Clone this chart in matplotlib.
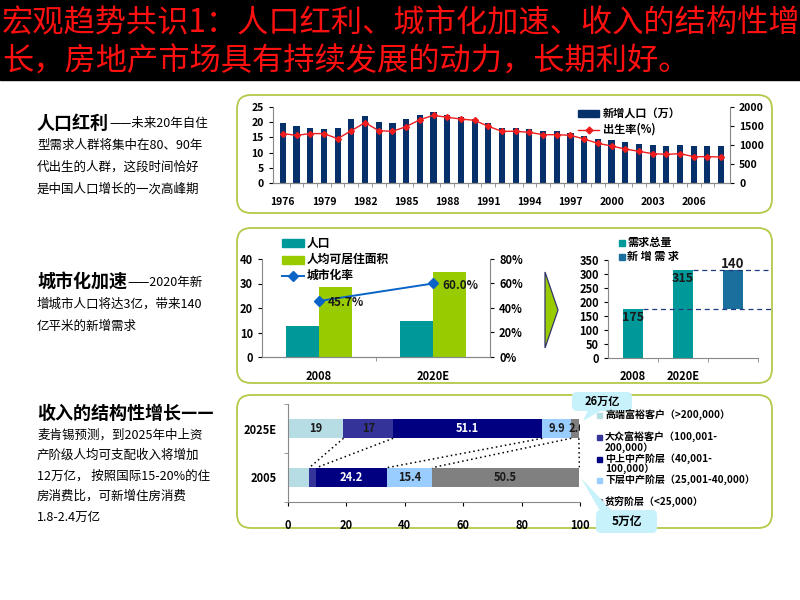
import matplotlib
matplotlib.use("Agg")
import matplotlib.pyplot as plt
from matplotlib.patches import FancyBboxPatch, Polygon, Rectangle
from matplotlib.lines import Line2D
import numpy as np

plt.rcParams['font.family'] = ['Noto Sans CJK SC', 'DejaVu Sans']
plt.rcParams['axes.unicode_minus'] = False

W, H = 800, 600

# ---- data ----
years = list(range(1976, 2009))
new_pop = [19.9, 18.9, 18.2, 17.8, 18.2, 20.9, 22.1, 20.2, 19.9, 21.0,
           22.4, 23.3, 22.4, 21.6, 21.1, 19.7, 18.2, 18.1, 17.7, 17.1,
           17.0, 16.6, 15.6, 14.6, 14.0, 13.4, 12.9, 12.4, 12.3, 12.4,
           12.1, 12.1, 12.1]
birth_rate = [1300, 1254, 1300, 1300, 1166, 1377, 1588, 1377, 1360, 1482,
              1666, 1780, 1728, 1684, 1649, 1491, 1360, 1360, 1333, 1271,
              1271, 1254, 1158, 1044, 974, 895, 833, 772, 754, 772,
              693, 693, 684]

urban_cats = ["2008", "2020E"]
urban_pop = [12.8, 14.8]
urban_area = [28.7, 34.8]
urban_rate = [45.7, 60.0]

demand_cats = ["2008", "2020E", ""]
demand_total = [175, 315]
demand_new = 140

income_cats = ["2005", "2025E"]
income_groups = ["高端富裕客户（>200,000）", "大众富裕客户（100,001-\n200,000）",
                 "中上中产阶层（40,001-\n100,000）", "下层中产阶层（25,001-40,000）",
                 "贫穷阶层（<25,000）"]
income_2005 = [7.3, 2.4, 24.2, 15.4, 50.5]
income_2025 = [19, 17, 51.1, 9.9, 2.6]
income_colors = ["#b7dde4", "#333399", "#000080", "#99ccff", "#808080"]
labels_2005 = [False, False, True, True, True]

TEAL = "#009999"
GREEN = "#99cc00"
NAVY = "#06306a"
BLUE_NEW = "#1b6f9c"
BORDER = "#b4c94a"


def box(x0, y0, x1, y1):
    return [x0 / W, 1 - y1 / H, (x1 - x0) / W, (y1 - y0) / H]


def style_axis(ax, color="#888888"):
    ax.patch.set_alpha(0)
    for s in ax.spines.values():
        s.set_color(color)
        s.set_linewidth(0.8)
    ax.tick_params(colors="black", labelsize=7.5, width=0.8, length=3)
    for lab in ax.get_xticklabels() + ax.get_yticklabels():
        lab.set_fontweight("bold")


fig = plt.figure(figsize=(8, 6), dpi=100)
fig.patch.set_facecolor("white")

bg = fig.add_axes([0, 0, 1, 1], zorder=0)
bg.set_xlim(0, W)
bg.set_ylim(H, 0)
bg.axis("off")

# title band
bg.add_patch(Rectangle((0, 0), W, 80, color="black"))
bg.text(2, 23, "宏观趋势共识1：人口红利、城市化加速、收入的结构性增", color="#ff1010",
        fontsize=22.5, va="center", ha="left")
bg.text(2, 62, "长，房地产市场具有持续发展的动力，长期利好。", color="#ff1010",
        fontsize=22.5, va="center", ha="left")

# panels
for (y0, y1) in [(95, 213), (228, 383), (395, 528)]:
    bg.add_patch(FancyBboxPatch((237, y0), 535, y1 - y0,
                                boxstyle="round,pad=0,rounding_size=14",
                                fc="white", ec=BORDER, lw=1.3))

# left column text
def heading(y, head, rest, lines):
    t = bg.text(37, y, head, fontsize=13, fontweight="bold", va="center", ha="left")
    bg.annotate(rest, xy=(1, 0.12), xycoords=t, fontsize=9, va="bottom", ha="left")
    for i, line in enumerate(lines):
        bg.text(37, y + 22 * (i + 1), line, fontsize=9, va="center", ha="left")

heading(123, "人口红利", "——未来20年自住",
        ["型需求人群将集中在80、90年", "代出生的人群，这段时间恰好", "是中国人口增长的一次高峰期"])
heading(282, "城市化加速", "——2020年新",
        ["增城市人口将达3亿，带来140", "亿平米的新增需求"])
bg.text(37, 413, "收入的结构性增长——", fontsize=13, fontweight="bold", va="center", ha="left")
for i, line in enumerate(["麦肯锡预测，到2025年中上资", "产阶级人均可支配收入将增加",
                          "12万亿， 按照国际15-20%的住", "房消费比，可新增住房消费",
                          "1.8-2.4万亿"]):
    bg.text(37, 435 + 20.5 * i, line, fontsize=9, va="center", ha="left")

# arrow chevron
bg.add_patch(Polygon([(545, 272), (558, 310), (545, 348)], closed=True,
                     fc=GREEN, ec="#33336b", lw=0.9))

# ---- chart 1: population ----
ax1 = fig.add_axes(box(273, 107, 730, 183))
x1 = np.arange(len(years))
ax1.bar(x1, new_pop, width=0.45, color=NAVY, zorder=2)
ax1.set_xlim(-0.72, len(years) - 0.35)
ax1.set_ylim(0, 25)
ax1.set_yticks(range(0, 26, 5))
ax1.set_xticks(x1[::3])
ax1.set_xticklabels([str(y) for y in years[::3]])
ax1.set_xticks(x1[:-1] + 0.5, minor=True)
ax1.spines["top"].set_visible(False)
ax1.spines["right"].set_visible(False)
style_axis(ax1)
ax1.tick_params(axis="x", which="major", length=0, pad=10)
ax1.tick_params(axis="x", which="minor", length=3, color="#888888")
ax1r = ax1.twinx()
ax1r.plot(x1, birth_rate, color="#ee1c1c", lw=1.0, marker="D", ms=3, zorder=3)
ax1r.set_ylim(0, 2000)
ax1r.set_yticks(range(0, 2001, 500))
ax1r.spines["top"].set_visible(False)
ax1r.spines["left"].set_visible(False)
style_axis(ax1r)

# ---- chart 2: urbanisation ----
ax2 = fig.add_axes(box(262, 259, 490, 357))
x2 = np.arange(len(urban_cats))
ax2.bar(x2 - 0.145, urban_pop, width=0.29, color=TEAL, zorder=2)
ax2.bar(x2 + 0.145, urban_area, width=0.29, color=GREEN, zorder=2)
ax2.set_xlim(-0.5, 1.5)
ax2.set_ylim(0, 40)
ax2.set_yticks(range(0, 41, 10))
ax2.set_xticks(x2)
ax2.set_xticklabels(urban_cats)
ax2.set_xticks([0.5], minor=True)
ax2.spines["top"].set_visible(False)
ax2.spines["right"].set_visible(False)
style_axis(ax2)
ax2.tick_params(axis="x", which="minor", length=3, color="#888888")
ax2.tick_params(axis="x", which="major", length=0, pad=9, labelsize=8)
ax2.tick_params(axis="y", labelsize=8)
ax2r = ax2.twinx()
ax2r.plot(x2, urban_rate, color="#0a64c8", lw=1.4, marker="D", ms=5, zorder=3)
ax2r.set_ylim(0, 80)
ax2r.set_yticks(range(0, 81, 20))
ax2r.set_yticklabels([f"{v}%" for v in range(0, 81, 20)])
ax2r.spines["top"].set_visible(False)
ax2r.spines["left"].set_visible(False)
style_axis(ax2r)
ax2r.tick_params(labelsize=8)
for xi, r in zip(x2, urban_rate):
    ax2r.text(xi + 0.08, r - 1.5, f"{r:.1f}%", fontsize=8.5, fontweight="bold",
              va="center", ha="left", color="#1a1a1a")

# ---- chart 3: housing demand ----
ax3 = fig.add_axes(box(608, 260, 758, 358))
x3 = np.arange(len(demand_cats))
ax3.bar(x3[:2], demand_total, width=0.4, color=TEAL, zorder=2)
ax3.bar(x3[2], demand_new, width=0.4, bottom=demand_total[0], color=BLUE_NEW, zorder=2)
ax3.set_xlim(-0.5, 2.5)
ax3.set_ylim(0, 350)
ax3.set_yticks(range(0, 351, 50))
ax3.set_xticks(x3[:2])
ax3.set_xticklabels(demand_cats[:2])
ax3.set_xticks([0.5, 1.5, 2.5], minor=True)
for s in ["top", "right"]:
    ax3.spines[s].set_visible(False)
style_axis(ax3)
ax3.tick_params(axis="x", which="minor", length=3, color="#888888")
ax3.tick_params(axis="x", which="major", length=0, pad=9, labelsize=8)
ax3.tick_params(axis="y", labelsize=8)
ax3.plot([0.2, 2.75], [demand_total[0]] * 2, ls=(0, (4, 3)), color="#1f3a80", lw=0.9,
         clip_on=False, zorder=3)
ax3.plot([1.2, 2.75], [demand_total[1]] * 2, ls=(0, (4, 3)), color="#1f3a80", lw=0.9,
         clip_on=False, zorder=3)
ax3.text(0, demand_total[0] - 30, str(demand_total[0]), fontsize=9, fontweight="bold",
         ha="center", va="center", color="#1a1a1a", zorder=4)
ax3.text(1, demand_total[1] - 30, str(demand_total[1]), fontsize=9, fontweight="bold",
         ha="center", va="center", color="#1a1a1a", zorder=4)
ax3.text(2, demand_total[0] + demand_new + 22, str(demand_new), fontsize=9.5,
         fontweight="bold", ha="center", va="center", color="#1a1a1a", clip_on=False)

# ---- chart 4: income structure ----
ax4 = fig.add_axes(box(288, 404, 580, 502))
cum05 = np.concatenate([[0], np.cumsum(income_2005)])
cum25 = np.concatenate([[0], np.cumsum(income_2025)])
for i, c in enumerate(income_colors):
    ax4.barh(0, income_2005[i], left=cum05[i], height=0.4, color=c, zorder=2)
    ax4.barh(1, income_2025[i], left=cum25[i], height=0.4, color=c, zorder=2)
    tc = "white" if c == "#000080" else "#1a1a1a"
    ax4.text(cum25[i] + income_2025[i] / 2 + (0.8 if i == 4 else 0), 1, f"{income_2025[i]:g}",
             fontsize=8, fontweight="bold", ha="center", va="center", color=tc, zorder=4,
             clip_on=True)
    if labels_2005[i]:
        ax4.text(cum05[i] + income_2005[i] / 2, 0, f"{income_2005[i]:g}", fontsize=8,
                 fontweight="bold", ha="center", va="center", color=tc, zorder=4)
for i in range(len(income_colors)):
    ax4.plot([cum25[i + 1], cum05[i + 1]], [0.8, 0.2], color="black", lw=1.1,
             ls=(0, (1, 2)), zorder=3)
ax4.set_xlim(0, 100)
ax4.set_ylim(-0.5, 1.5)
ax4.set_yticks([0, 1])
ax4.set_yticklabels(income_cats)
ax4.set_yticks([-0.5, 0.5, 1.5], minor=True)
ax4.set_xticks(range(0, 101, 20))
for s in ["top", "right"]:
    ax4.spines[s].set_visible(False)
style_axis(ax4)
ax4.tick_params(axis="y", which="major", length=0, pad=8, labelsize=8)
ax4.tick_params(axis="y", which="minor", length=3, color="#888888")
ax4.tick_params(axis="x", length=3, pad=9, labelsize=8)

# ---- foreground: legends + callouts ----
fg = fig.add_axes([0, 0, 1, 1], zorder=10)
fg.set_xlim(0, W)
fg.set_ylim(H, 0)
fg.axis("off")
fg.patch.set_alpha(0)

# chart 1 legend
fg.add_patch(Rectangle((578, 110), 21, 7, color=NAVY))
fg.text(603, 113.5, "新增人口（万）", fontsize=8, fontweight="bold", va="center")
fg.add_line(Line2D([578, 599], [129.5, 129.5], color="#ee1c1c", lw=1.0))
fg.plot([588.5], [129.5], marker="D", ms=3.5, color="#ee1c1c")
fg.text(603, 129.5, "出生率(%)", fontsize=8, fontweight="bold", va="center")

# chart 2 legend
fg.add_patch(Rectangle((282, 239), 22, 8, color=TEAL))
fg.text(307, 243, "人口", fontsize=8.5, fontweight="bold", va="center")
fg.add_patch(Rectangle((282, 255.5), 22, 8, color=GREEN))
fg.text(307, 259.5, "人均可居住面积", fontsize=8.5, fontweight="bold", va="center")
fg.add_line(Line2D([282, 304], [275.5, 275.5], color="#0a64c8", lw=1.4))
fg.plot([293], [275.5], marker="D", ms=5, color="#0a64c8")
fg.text(307, 275.5, "城市化率", fontsize=8.5, fontweight="bold", va="center")

# chart 3 legend
fg.add_patch(Rectangle((619, 239.5), 6, 6, color=TEAL))
fg.text(627, 242.5, "需求总量", fontsize=8, fontweight="bold", va="center")
fg.add_patch(Rectangle((619, 253.5), 6, 6, color=BLUE_NEW))
fg.text(627, 256.5, "新 增 需 求", fontsize=8, fontweight="bold", va="center")

# chart 4 legend
leg_y = [415, 437.5, 459, 480, 501]
for c, label, y in zip(income_colors, income_groups, leg_y):
    fg.add_patch(Rectangle((597, y - 2.5), 5, 5, color=c))
    for j, part in enumerate(label.split("\n")):
        fg.text(605, y + 10 * j, part, fontsize=7.2, fontweight="bold",
                va="center", ha="left")

CALL = "#c8f2fb"
fg.add_patch(Polygon([(588, 410), (602, 410), (583, 421)], closed=True, fc=CALL, ec="none"))
fg.add_patch(FancyBboxPatch((572, 392), 60, 19, boxstyle="round,pad=0,rounding_size=5",
                            fc=CALL, ec="none"))
fg.text(602, 401.5, "26万亿", fontsize=8, fontweight="bold", ha="center", va="center")
fg.add_patch(Polygon([(581, 478), (600, 511), (612, 511)], closed=True, fc=CALL, ec="none"))
fg.add_patch(FancyBboxPatch((596, 510), 61, 23, boxstyle="round,pad=0,rounding_size=5",
                            fc=CALL, ec="none"))
fg.text(626.5, 521.5, "5万亿", fontsize=8.5, fontweight="bold", ha="center", va="center")

fig.savefig("out.png", dpi=100)
